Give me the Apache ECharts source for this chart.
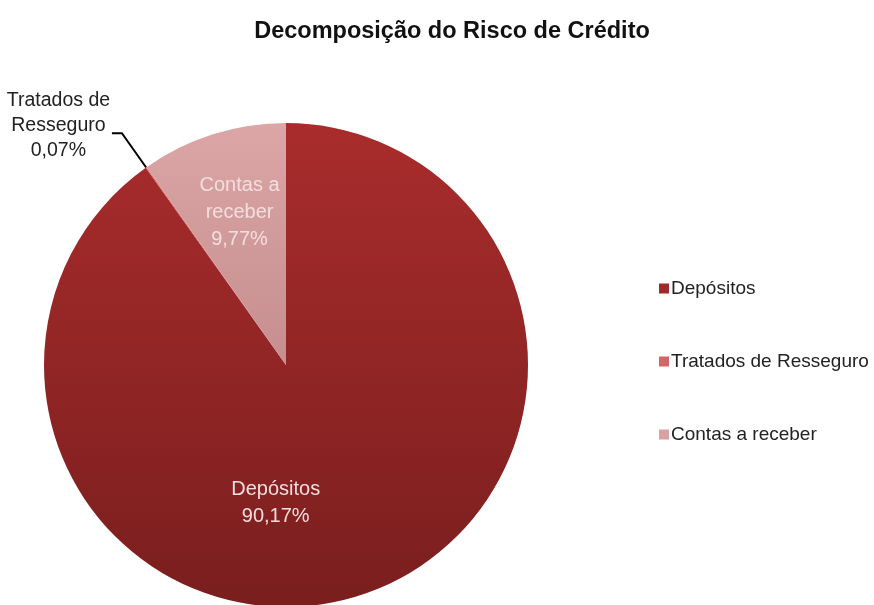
<!DOCTYPE html>
<html>
<head>
<meta charset="utf-8">
<script src="https://cdn.jsdelivr.net/npm/echarts@6/dist/echarts.min.js"></script>
<style>
  html, body { margin: 0; padding: 0; background: #ffffff; }
  #chart { width: 874px; height: 605px; }
</style>
</head>
<body>
<div id="chart"></div>
<script>
// Credit-risk breakdown (percent of total)
var categories = ['Depósitos', 'Tratados de Resseguro', 'Contas a receber'];
var shares = [90.17, 0.07, 9.77];
var labelNames = [['Depósitos'], ['Tratados de', 'Resseguro'], ['Contas a', 'receber']];

var FONT = '"Liberation Sans", Arial, sans-serif';

var fills = [
  { type: 'linear', x: 0, y: 0, x2: 0, y2: 1,
    colorStops: [{ offset: 0, color: '#a92c2c' }, { offset: 1, color: '#7a1e1e' }] },
  { type: 'linear', x: 0, y: 0, x2: 0, y2: 1,
    colorStops: [{ offset: 0, color: '#d86464' }, { offset: 1, color: '#c04a4a' }] },
  { type: 'linear', x: 0, y: 0, x2: 0, y2: 1,
    colorStops: [{ offset: 0, color: '#dca6a6' }, { offset: 1, color: '#c68e8e' }] }
];
var legendColors = ['#9e2a2a', '#d06666', '#d6a2a2'];

function fmt(v) { return v.toFixed(2).replace('.', ',') + '%'; }

function centredLines(lines) {
  return lines.map(function (s) { return '{c|' + s + '}'; }).join('\n');
}

var data = categories.map(function (name, i) {
  var inside = i !== 1;
  var lines = labelNames[i].concat([fmt(shares[i])]);
  return {
    name: name,
    value: shares[i],
    itemStyle: { color: fills[i] },
    label: {
      show: true,
      position: inside ? 'inside' : 'outside',
      distanceToLabelLine: 2,
      formatter: centredLines(lines),
      rich: {
        c: {
          color: inside ? '#f3dede' : '#222222',
          fontFamily: FONT,
          fontSize: inside ? 20 : 19.5,
          lineHeight: inside ? 27 : 25,
          width: inside ? 90 : 103,
          align: 'center'
        }
      }
    },
    labelLine: inside ? { show: false } : {
      show: true, length: 42, length2: 10,
      lineStyle: { color: '#000000', width: 2 }
    }
  };
});

var chart = echarts.init(document.getElementById('chart'));
chart.setOption({
  animation: false,
  backgroundColor: '#ffffff',
  title: {
    text: 'Decomposição do Risco de Crédito',
    left: 447, top: 15, textAlign: 'center',
    textStyle: { fontFamily: FONT, fontSize: 23.5, fontWeight: 'bold', color: '#111111' }
  },
  legend: {
    orient: 'vertical',
    left: 654, top: 274,
    itemWidth: 10, itemHeight: 10, itemGap: 54,
    icon: 'rect',
    data: categories.map(function (n, i) { return { name: n, itemStyle: { color: legendColors[i] } }; }),
    textStyle: { fontFamily: FONT, fontSize: 19, color: '#222222', padding: [0, 0, 0, -3] }
  },
  series: [{
    type: 'pie',
    center: [286, 365],
    radius: [0, 242],
    startAngle: 90,
    clockwise: true,
    avoidLabelOverlap: false,
    minShowLabelAngle: 0,
    itemStyle: { borderWidth: 0 },
    emphasis: { disabled: true },
    data: data,
    labelLayout: function (p) {
      if (p.dataIndex === 0) return { dx: -48, dy: 20 };
      if (p.dataIndex === 1) return { dy: -8 };
      if (p.dataIndex === 2) return { dx: -9, dy: -34 };
      return {};
    }
  }]
});
</script>
</body>
</html>
